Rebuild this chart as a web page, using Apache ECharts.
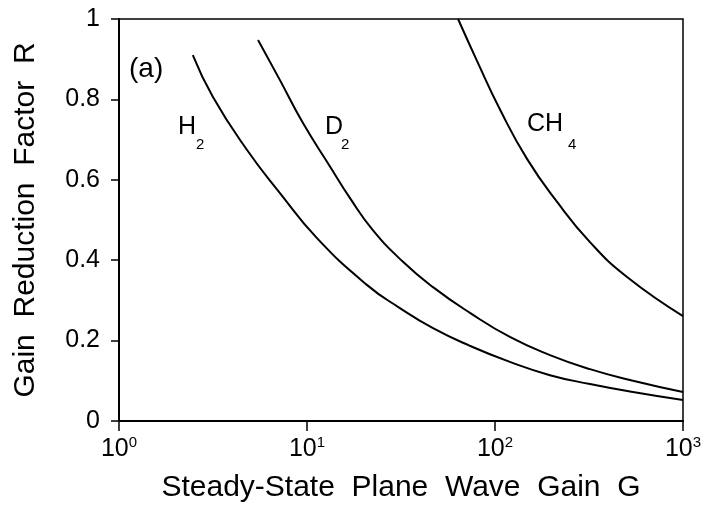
<!DOCTYPE html>
<html>
<head>
<meta charset="utf-8">
<script src="https://cdn.jsdelivr.net/npm/echarts@6/dist/echarts.min.js"></script>
<style>html,body{margin:0;padding:0;background:#fff;}#c{width:710px;height:507px;}</style>
</head>
<body>
<div id="c"></div>
<script>
// Data: [G, R]
const h2Data = [[2.47,0.910],[3.16,0.806],[4.80,0.674],[7.18,0.567],[11.3,0.455],[20.9,0.338],[31.2,0.281],[46.8,0.231],[73.6,0.187],[120,0.147],[196,0.114],[320,0.092],[542,0.072],[1000,0.052]];
const d2Data = [[5.49,0.948],[7.18,0.848],[9.52,0.741],[13.3,0.632],[16.9,0.555],[22.4,0.475],[32.4,0.396],[46.8,0.333],[73.6,0.269],[120,0.209],[196,0.164],[320,0.129],[542,0.100],[1000,0.072]];
const ch4Data = [[63.6,1.0],[80.2,0.896],[106,0.776],[148,0.652],[214,0.545],[320,0.445],[504,0.358],[1000,0.261]];
const yTicks = [0, 0.2, 0.4, 0.6, 0.8, 1];
const xTitle = 'Steady-State  Plane  Wave  Gain  G';
const yTitle = 'Gain  Reduction  Factor  R';

const FONT = '"Liberation Sans", Arial, Helvetica, sans-serif';
const chart = echarts.init(document.getElementById('c'), null, {renderer: 'canvas'});

function curve(name, data) {
  return {
    name: name, type: 'line', data: data, smooth: 0.5, showSymbol: false,
    lineStyle: {color: '#000', width: 2}, animation: false
  };
}

function txt(x, y, s, size) {
  return {type: 'text', left: x, top: y, style: {text: s, font: size + 'px ' + FONT, fill: '#000', verticalAlign: 'middle'}};
}

chart.setOption({
  animation: false,
  backgroundColor: '#fff',
  grid: {left: 119, right: 27, top: 19, bottom: 86, show: true, borderColor: '#000', borderWidth: 1.5,
         containLabel: false, outerBoundsMode: 'none'},
  xAxis: {
    type: 'log', logBase: 10, min: 1, max: 1000,
    name: xTitle, nameLocation: 'middle', nameGap: 52,
    nameTextStyle: {fontFamily: FONT, fontSize: 30, color: '#000'},
    axisLine: {show: true, lineStyle: {color: '#000', width: 2}},
    axisTick: {show: true, length: 10, lineStyle: {color: '#000', width: 1.5}},
    minorTick: {show: false},
    splitLine: {show: false},
    axisLabel: {
      margin: 14, color: '#000',
      formatter: function (v) {
        const e = Math.round(Math.log10(v));
        return '{b|10}{s|' + e + '}';
      },
      rich: {
        b: {fontFamily: FONT, fontSize: 25, lineHeight: 28, color: '#000'},
        s: {fontFamily: FONT, fontSize: 15, lineHeight: 4, verticalAlign: 'top', color: '#000'}
      }
    }
  },
  yAxis: {
    type: 'value', min: 0, max: 1, interval: 0.2,
    name: yTitle, nameLocation: 'middle', nameGap: 78,
    nameTextStyle: {fontFamily: FONT, fontSize: 30, color: '#000'},
    axisLine: {show: true, lineStyle: {color: '#000', width: 2}},
    axisTick: {show: true, length: 8, lineStyle: {color: '#000', width: 1.5}},
    splitLine: {show: false},
    axisLabel: {
      margin: 19, color: '#000', fontFamily: FONT, fontSize: 25,
      formatter: function (v) {
        for (const t of yTicks) { if (Math.abs(t - v) < 1e-9) return String(t); }
        return '';
      }
    }
  },
  series: [curve('H2', h2Data), curve('D2', d2Data), curve('CH4', ch4Data)],
  graphic: [
    txt(129, 55, '(a)', 28),
    txt(178, 115, 'H', 25), txt(196, 137, '2', 15),
    txt(325, 115, 'D', 25), txt(341, 137, '2', 15),
    txt(527, 112, 'CH', 25), txt(568, 137, '4', 15)
  ]
});
</script>
</body>
</html>
